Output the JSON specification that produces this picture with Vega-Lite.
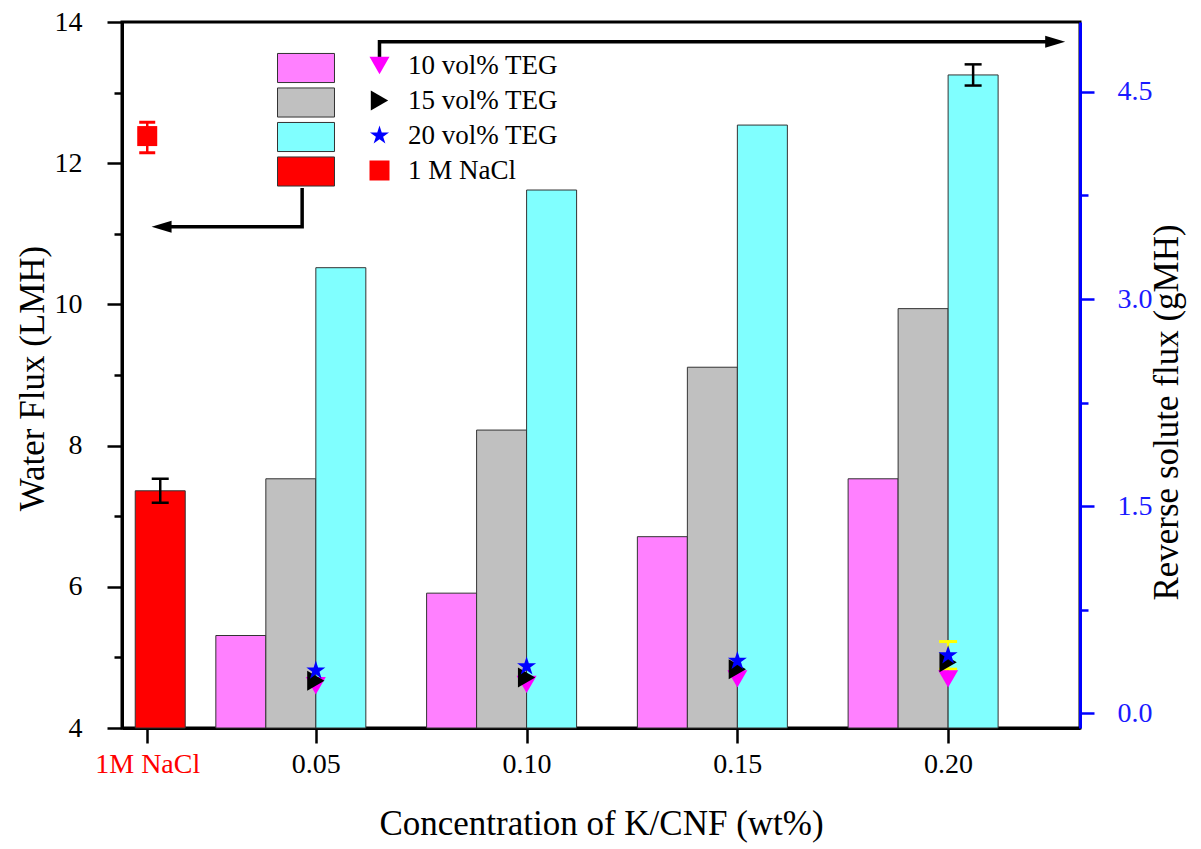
{
  "$schema": "https://vega.github.io/schema/vega-lite/v6.json",
  "width": 958,
  "height": 706,
  "autosize": {"type": "none"},
  "padding": {"left": 122, "top": 22, "right": 121, "bottom": 121},
  "background": "white",
  "config": {
    "view": {"stroke": "black", "strokeWidth": 3},
    "font": "Liberation Serif",
    "axis": {"titleFont": "Liberation Serif", "labelFont": "Liberation Serif", "titleFontWeight": "normal", "titleColor": "black", "grid": false, "zindex": 1},
    "legend": {"labelFont": "Liberation Serif", "labelFontSize": 27, "labelColor": "black"}
  },
  "datasets": {
    "main": [
      {"conc": 0.01, "series": "1 M NaCl", "water_flux": 7.36, "water_lo": 7.19, "water_hi": 7.53, "rsf": 4.18, "rsf_lo": 4.06, "rsf_hi": 4.28},
      {"conc": 0.05, "series": "10 vol% TEG", "water_flux": 5.31, "rsf": 0.2},
      {"conc": 0.05, "series": "15 vol% TEG", "water_flux": 7.53, "rsf": 0.236},
      {"conc": 0.05, "series": "20 vol% TEG", "water_flux": 10.52, "rsf": 0.31},
      {"conc": 0.1, "series": "10 vol% TEG", "water_flux": 5.91, "rsf": 0.21},
      {"conc": 0.1, "series": "15 vol% TEG", "water_flux": 8.22, "rsf": 0.26},
      {"conc": 0.1, "series": "20 vol% TEG", "water_flux": 11.62, "rsf": 0.34},
      {"conc": 0.15, "series": "10 vol% TEG", "water_flux": 6.71, "rsf": 0.25},
      {"conc": 0.15, "series": "15 vol% TEG", "water_flux": 9.11, "rsf": 0.32},
      {"conc": 0.15, "series": "20 vol% TEG", "water_flux": 12.54, "rsf": 0.38},
      {"conc": 0.2, "series": "10 vol% TEG", "water_flux": 7.53, "rsf": 0.25},
      {"conc": 0.2, "series": "15 vol% TEG", "water_flux": 9.94, "rsf": 0.37},
      {"conc": 0.2, "series": "20 vol% TEG", "water_flux": 13.25, "water_lo": 13.1, "water_hi": 13.4, "rsf": 0.42, "rsf_lo": 0.32, "rsf_hi": 0.52}
    ],
    "arrows": [
      {"arrow": "right", "ord": 1, "xv": 0.0651, "yv": 13.5},
      {"arrow": "right", "ord": 2, "xv": 0.0651, "yv": 13.72},
      {"arrow": "right", "ord": 3, "xv": 0.2245, "yv": 13.72},
      {"arrow": "left", "ord": 1, "xv": 0.04675, "yv": 11.65},
      {"arrow": "left", "ord": 2, "xv": 0.04675, "yv": 11.1},
      {"arrow": "left", "ord": 3, "xv": 0.0146, "yv": 11.1}
    ],
    "heads": [
      {"arrow": "right", "xv": 0.2254, "yv": 13.72},
      {"arrow": "left", "xv": 0.0134, "yv": 11.1}
    ]
  },
  "data": {"name": "main"},
  "layer": [
    {
      "layer": [
        {
          "transform": [{"filter": "datum.series === '10 vol% TEG'"}],
          "mark": {"type": "bar", "width": 50, "xOffset": -75, "stroke": "#333333", "strokeWidth": 1},
          "encoding": {
            "x": {"field": "conc", "type": "quantitative", "scale": {"domain": [0.0052, 0.2301], "nice": false, "zero": false},
              "axis": {"title": "Concentration of K/CNF (wt%)", "titleFontSize": 35, "titlePadding": 28, "values": [0.01, 0.05, 0.1, 0.15, 0.2],
                "labelExpr": "datum.value < 0.03 ? '1M NaCl' : format(datum.value, '.2f')",
                "labelColor": {"condition": {"test": "datum.value < 0.03", "value": "#ff0000"}, "value": "black"},
                "labelFontSize": 28, "labelPadding": 7, "tickSize": 15, "tickWidth": 2.5, "tickColor": "black", "domainColor": "black", "domainWidth": 3}},
            "y": {"field": "water_flux", "type": "quantitative", "scale": {"domain": [4, 14], "nice": false, "zero": false},
              "axis": {"title": "Water Flux (LMH)", "titleFontSize": 35, "titleX": -90, "titleY": 356, "titleBaseline": "middle", "titleAlign": "center", "titleAngle": 270,
                "values": [4, 5, 6, 7, 8, 9, 10, 11, 12, 13, 14],
                "labelExpr": "datum.value % 2 == 0 ? format(datum.value, 'd') : ''",
                "tickSize": {"condition": {"test": "datum.value % 2 == 1", "value": 8}, "value": 15},
                "labelFontSize": 28, "labelPadding": 25, "labelColor": "black", "tickWidth": 2.5, "tickColor": "black", "domainColor": "black", "domainWidth": 3}},
            "y2": {"datum": 4},
            "fill": {"field": "series", "type": "nominal",
              "scale": {"domain": ["10 vol% TEG", "15 vol% TEG", "20 vol% TEG", "1 M NaCl"], "range": ["#ff80ff", "#c0c0c0", "#80ffff", "#ff0000"]},
              "legend": {"orient": "none", "legendX": 169, "legendY": 31, "title": null, "symbolType": "M-2,-1.02H2V1.02H-2Z", "symbolSize": 812,
                "symbolStrokeColor": "#333333", "symbolStrokeWidth": 1, "symbolOpacity": 1, "labelExpr": "''", "labelFontSize": 1, "labelOffset": 0, "rowPadding": 0.5, "padding": 0}}
          }
        },
        {
          "transform": [{"filter": "datum.series === '15 vol% TEG'"}],
          "mark": {"type": "bar", "width": 50, "xOffset": -25, "stroke": "#333333", "strokeWidth": 1},
          "encoding": {
            "x": {"field": "conc", "type": "quantitative", "scale": {"domain": [0.0052, 0.2301], "nice": false, "zero": false}},
            "y": {"field": "water_flux", "type": "quantitative", "scale": {"domain": [4, 14], "nice": false, "zero": false}},
            "y2": {"datum": 4},
            "fill": {"field": "series", "type": "nominal"}
          }
        },
        {
          "transform": [{"filter": "datum.series === '20 vol% TEG'"}],
          "mark": {"type": "bar", "width": 50, "xOffset": 25, "stroke": "#333333", "strokeWidth": 1},
          "encoding": {
            "x": {"field": "conc", "type": "quantitative", "scale": {"domain": [0.0052, 0.2301], "nice": false, "zero": false}},
            "y": {"field": "water_flux", "type": "quantitative", "scale": {"domain": [4, 14], "nice": false, "zero": false}},
            "y2": {"datum": 4},
            "fill": {"field": "series", "type": "nominal"}
          }
        },
        {
          "transform": [{"filter": "datum.series === '1 M NaCl'"}],
          "mark": {"type": "bar", "width": 50, "xOffset": 13, "stroke": "#333333", "strokeWidth": 1},
          "encoding": {
            "x": {"field": "conc", "type": "quantitative", "scale": {"domain": [0.0052, 0.2301], "nice": false, "zero": false}},
            "y": {"field": "water_flux", "type": "quantitative", "scale": {"domain": [4, 14], "nice": false, "zero": false}},
            "y2": {"datum": 4},
            "fill": {"field": "series", "type": "nominal"}
          }
        },
        {
          "transform": [{"filter": "datum.series === '1 M NaCl'"}],
          "layer": [
            {"mark": {"type": "rule", "xOffset": 13, "color": "black", "strokeWidth": 2.5},
             "encoding": {"x": {"field": "conc", "type": "quantitative"}, "y": {"field": "water_lo", "type": "quantitative"}, "y2": {"field": "water_hi"}}},
            {"mark": {"type": "tick", "orient": "horizontal", "xOffset": 13, "color": "black", "size": 17, "thickness": 2.5, "opacity": 1},
             "encoding": {"x": {"field": "conc", "type": "quantitative"}, "y": {"field": "water_lo", "type": "quantitative"}}},
            {"mark": {"type": "tick", "orient": "horizontal", "xOffset": 13, "color": "black", "size": 17, "thickness": 2.5, "opacity": 1},
             "encoding": {"x": {"field": "conc", "type": "quantitative"}, "y": {"field": "water_hi", "type": "quantitative"}}}
          ]
        },
        {
          "transform": [{"filter": "datum.series === '20 vol% TEG' && isValid(datum.water_lo)"}],
          "layer": [
            {"mark": {"type": "rule", "xOffset": 25, "color": "black", "strokeWidth": 2.5},
             "encoding": {"x": {"field": "conc", "type": "quantitative"}, "y": {"field": "water_lo", "type": "quantitative"}, "y2": {"field": "water_hi"}}},
            {"mark": {"type": "tick", "orient": "horizontal", "xOffset": 25, "color": "black", "size": 17, "thickness": 2.5, "opacity": 1},
             "encoding": {"x": {"field": "conc", "type": "quantitative"}, "y": {"field": "water_lo", "type": "quantitative"}}},
            {"mark": {"type": "tick", "orient": "horizontal", "xOffset": 25, "color": "black", "size": 17, "thickness": 2.5, "opacity": 1},
             "encoding": {"x": {"field": "conc", "type": "quantitative"}, "y": {"field": "water_hi", "type": "quantitative"}}}
          ]
        },
        {
          "data": {"name": "arrows"},
          "mark": {"type": "line", "color": "black", "strokeWidth": 3.5, "strokeJoin": "miter"},
          "encoding": {
            "x": {"field": "xv", "type": "quantitative"},
            "y": {"field": "yv", "type": "quantitative"},
            "detail": {"field": "arrow"},
            "order": {"field": "ord", "type": "quantitative"}
          }
        },
        {
          "data": {"name": "heads"},
          "transform": [{"filter": "datum.arrow === 'right'"}],
          "mark": {"type": "point", "shape": "M1,0L-1,-0.6L-1,0.6Z", "size": 400, "filled": true, "color": "black", "opacity": 1},
          "encoding": {"x": {"field": "xv", "type": "quantitative"}, "y": {"field": "yv", "type": "quantitative"}}
        },
        {
          "data": {"name": "heads"},
          "transform": [{"filter": "datum.arrow === 'left'"}],
          "mark": {"type": "point", "shape": "M-1,0L1,-0.6L1,0.6Z", "size": 400, "filled": true, "color": "black", "opacity": 1},
          "encoding": {"x": {"field": "xv", "type": "quantitative"}, "y": {"field": "yv", "type": "quantitative"}}
        }
      ]
    },
    {
      "layer": [
        {
          "transform": [{"filter": "datum.series === '1 M NaCl'"}],
          "layer": [
            {"mark": {"type": "rule", "color": "#ff0000", "strokeWidth": 2.5},
             "encoding": {"x": {"field": "conc", "type": "quantitative"}, "y": {"field": "rsf_lo", "type": "quantitative", "scale": {"domain": [-0.106, 5.006], "nice": false, "zero": false}}, "y2": {"field": "rsf_hi"}}},
            {"mark": {"type": "tick", "orient": "horizontal", "color": "#ff0000", "size": 16, "thickness": 3, "opacity": 1},
             "encoding": {"x": {"field": "conc", "type": "quantitative"}, "y": {"field": "rsf_lo", "type": "quantitative", "scale": {"domain": [-0.106, 5.006], "nice": false, "zero": false}}}},
            {"mark": {"type": "tick", "orient": "horizontal", "color": "#ff0000", "size": 16, "thickness": 3, "opacity": 1},
             "encoding": {"x": {"field": "conc", "type": "quantitative"}, "y": {"field": "rsf_hi", "type": "quantitative", "scale": {"domain": [-0.106, 5.006], "nice": false, "zero": false}}}}
          ]
        },
        {
          "transform": [{"filter": "datum.series === '20 vol% TEG' && isValid(datum.rsf_lo)"}],
          "layer": [
            {"mark": {"type": "rule", "color": "#ffff00", "strokeWidth": 2.5},
             "encoding": {"x": {"field": "conc", "type": "quantitative"}, "y": {"field": "rsf_lo", "type": "quantitative", "scale": {"domain": [-0.106, 5.006], "nice": false, "zero": false}}, "y2": {"field": "rsf_hi"}}},
            {"mark": {"type": "tick", "orient": "horizontal", "color": "#ffff00", "size": 18, "thickness": 3, "opacity": 1},
             "encoding": {"x": {"field": "conc", "type": "quantitative"}, "y": {"field": "rsf_lo", "type": "quantitative", "scale": {"domain": [-0.106, 5.006], "nice": false, "zero": false}}}},
            {"mark": {"type": "tick", "orient": "horizontal", "color": "#ffff00", "size": 18, "thickness": 3, "opacity": 1},
             "encoding": {"x": {"field": "conc", "type": "quantitative"}, "y": {"field": "rsf_hi", "type": "quantitative", "scale": {"domain": [-0.106, 5.006], "nice": false, "zero": false}}}}
          ]
        },
        {
          "mark": {"type": "point", "filled": true, "size": 400, "opacity": 1, "strokeWidth": 0},
          "encoding": {
            "x": {"field": "conc", "type": "quantitative"},
            "y": {"field": "rsf", "type": "quantitative", "scale": {"domain": [-0.106, 5.006], "nice": false, "zero": false},
              "axis": {"orient": "right", "title": "Reverse solute flux (gMH)", "titleFontSize": 35, "titleAngle": 270, "titleX": 86, "titleY": 390, "titleBaseline": "middle", "titleAlign": "center",
                "values": [0, 0.75, 1.5, 2.25, 3, 3.75, 4.5],
                "labelExpr": "datum.value % 1.5 == 0 ? format(datum.value, '.1f') : ''",
                "tickSize": {"condition": {"test": "datum.value % 1.5 != 0", "value": 8}, "value": 14},
                "labelFontSize": 28, "labelPadding": 23, "labelColor": "#1a1aff", "tickWidth": 2.5, "tickColor": "#0000ff", "domainColor": "#0000ff", "domainWidth": 3}},
            "fill": {"field": "series", "type": "nominal",
              "scale": {"domain": ["10 vol% TEG", "15 vol% TEG", "20 vol% TEG", "1 M NaCl"], "range": ["#ff00ff", "#000000", "#0000ff", "#ff0000"]},
              "legend": {"orient": "none", "legendX": 244, "legendY": 30, "title": null, "symbolSize": 400, "symbolStrokeWidth": 0, "symbolOpacity": 1, "labelOffset": 15, "rowPadding": 7, "padding": 0}},
            "shape": {"field": "series", "type": "nominal",
              "scale": {"domain": ["10 vol% TEG", "15 vol% TEG", "20 vol% TEG", "1 M NaCl"],
                "range": ["triangle-down", "triangle-right", "M0,-1L0.2245,-0.309L0.951,-0.309L0.363,0.118L0.588,0.809L0,0.382L-0.588,0.809L-0.363,0.118L-0.951,-0.309L-0.2245,-0.309Z", "square"]},
              "legend": {"orient": "none", "legendX": 244, "legendY": 30, "title": null, "symbolSize": 400, "symbolStrokeWidth": 0, "symbolOpacity": 1, "labelOffset": 15, "rowPadding": 7, "padding": 0}}
          }
        }
      ]
    }
  ],
  "resolve": {"scale": {"y": "independent", "fill": "independent", "shape": "independent"}, "legend": {"fill": "independent", "shape": "independent"}}
}
